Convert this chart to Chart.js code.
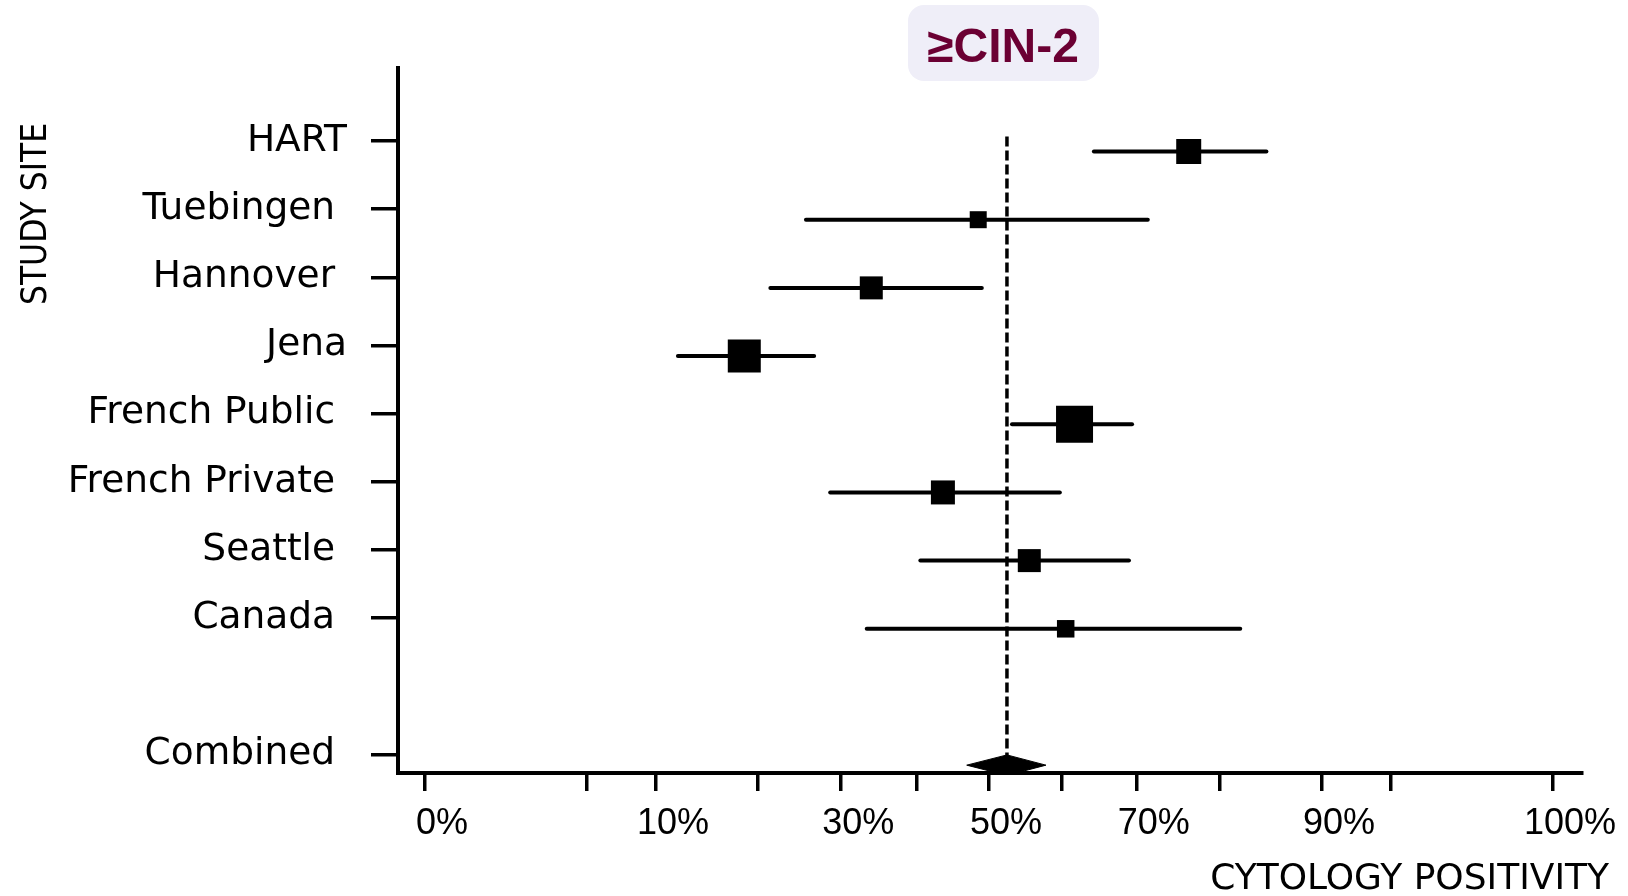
<!DOCTYPE html>
<html>
<head>
<meta charset="utf-8">
<title>CIN-2 cytology positivity by study site</title>
<script src="https://cdn.jsdelivr.net/npm/chart.js@4.4.1/dist/chart.umd.min.js"></script>
<style>
  html, body { margin: 0; padding: 0; background: #fff; }
  #chart { display: block; }
</style>
</head>
<body>
<canvas id="chart" width="1628" height="896"></canvas>
<script>
// Study sites (row 8 is an empty spacer row before the pooled estimate)
const siteLabels = ['HART', 'Tuebingen ', 'Hannover ', 'Jena', 'French Public ', 'French Private ', 'Seattle ', 'Canada ', '', 'Combined '];

// Cytology positivity (%) per site: point estimate and 95% CI
const estimate = [76.4, 48.5, 33.9, 18.5, 61.8, 43.6, 55.6, 60.6];
const lower    = [64.4, 25.6, 21.4, 11.9, 53.2, 28.6, 40.5, 33.3];
const upper    = [84.9, 71.4, 49.0, 26.6, 69.4, 59.8, 69.0, 82.2];

// Pooled estimate
const combinedEstimate = 52.5;
const combinedLower = 46.9;
const combinedUpper = 57.9;
const combinedRow = 9;

// Axis ticks (%); only some of them carry a label
const xTickValues = [0, 5, 10, 20, 30, 40, 50, 60, 70, 80, 90, 95, 100];
const xTickLabels = [0, 10, 30, 50, 70, 90, 100];
const yTickRows = [0, 1, 2, 3, 4, 5, 6, 7, 9];

// marker sizes (px) follow the study weights
const markerSize = [25, 17, 23, 33, 37, 24, 23, 17.5];

// the x axis is on an arcsine-square-root scale
const asinSqrt = p => Math.asin(Math.sqrt(p / 100));
const fromAsin = v => Math.round(100 * Math.pow(Math.sin(v), 2));

const black = '#000';

const ciLines = estimate.map((_, i) => ({
    data: [{ x: asinSqrt(lower[i]), y: i }, { x: asinSqrt(upper[i]), y: i }],
    yAxisID: 'y',
    showLine: true,
    borderColor: black,
    borderWidth: 4,
    borderCapStyle: 'round',
    pointRadius: 0
}));

const decorations = {
    id: 'decorations',
    afterDraw(chart) {
        const ctx = chart.ctx;
        ctx.save();

        // title badge
        ctx.fillStyle = '#efeef8';
        ctx.beginPath();
        ctx.roundRect(908, 5, 191, 76, 16);
        ctx.fill();
        ctx.fillStyle = '#6b0033';
        ctx.font = 'bold 48px "Liberation Sans", Arial, sans-serif';
        ctx.textAlign = 'center';
        ctx.textBaseline = 'alphabetic';
        ctx.fillText('\u2265CIN-2', 1003, 62);

        // axis titles
        ctx.fillStyle = black;
        ctx.font = '36px "DejaVu Sans", sans-serif';
        ctx.textAlign = 'right';
        ctx.fillText('CYTOLOGY POSITIVITY', 1609, 889);

        ctx.translate(46, 214);
        ctx.rotate(-Math.PI / 2);
        ctx.textAlign = 'center';
        ctx.font = '35px "DejaVu Sans Condensed", "DejaVu Sans", sans-serif';
        ctx.fillText('STUDY SITE', 0, 0);
        ctx.restore();
    }
};

new Chart(document.getElementById('chart'), {
    type: 'scatter',
    data: {
        datasets: [
            {
                data: estimate.map((v, i) => ({ x: asinSqrt(v), y: i })),
                yAxisID: 'y',
                pointStyle: 'rect',
                pointRadius: markerSize.map(s => s / Math.SQRT2),
                backgroundColor: black,
                borderWidth: 0
            },
            {
                data: [
                    { x: asinSqrt(combinedLower), y: combinedRow },
                    { x: asinSqrt(combinedEstimate), y: combinedRow - 0.15 },
                    { x: asinSqrt(combinedUpper), y: combinedRow },
                    { x: asinSqrt(combinedEstimate), y: combinedRow + 0.15 },
                    { x: asinSqrt(combinedLower), y: combinedRow }
                ],
                yAxisID: 'y',
                showLine: true,
                fill: 'shape',
                backgroundColor: black,
                borderColor: black,
                borderWidth: 1,
                pointRadius: 0
            },
            ...ciLines,
            {
                data: [{ x: asinSqrt(combinedEstimate), y: -0.22 }, { x: asinSqrt(combinedEstimate), y: combinedRow + 0.2 }],
                yAxisID: 'y',
                showLine: true,
                borderColor: black,
                borderWidth: 3.5,
                borderDash: [10, 4],
                pointRadius: 0
            }
        ]
    },
    options: {
        responsive: false,
        animation: false,
        devicePixelRatio: 1,
        events: [],
        layout: { padding: { top: 68, right: 46, bottom: 0, left: 0 } },
        plugins: {
            legend: { display: false },
            tooltip: { enabled: false },
            title: { display: false }
        },
        scales: {
            x: {
                type: 'linear',
                position: 'bottom',
                min: -0.0376,
                max: 1.6112,
                afterBuildTicks: s => { s.ticks = xTickValues.map(p => ({ value: asinSqrt(p) })); },
                afterFit: s => { s.height = 123; },
                grid: { drawOnChartArea: false, drawTicks: true, tickLength: 18, lineWidth: 3.5, color: black },
                border: { display: true, color: black, width: 4 },
                ticks: {
                    autoSkip: false,
                    maxRotation: 0,
                    labelOffset: 17,
                    padding: 11,
                    color: black,
                    font: { family: '"Liberation Sans", Arial, sans-serif', size: 36 },
                    callback: v => {
                        const p = fromAsin(v);
                        return xTickLabels.includes(p) ? p + '%' : '';
                    }
                }
            },
            y: {
                type: 'linear',
                display: false,
                reverse: true,
                min: -1.225,
                max: 9.115
            },
            yTicks: {
                type: 'linear',
                position: 'left',
                reverse: true,
                min: -1.07,
                max: 9.27,
                afterBuildTicks: s => { s.ticks = yTickRows.map(r => ({ value: r })); },
                afterFit: s => { s.width = 398; },
                grid: { drawOnChartArea: false, drawTicks: true, tickLength: 27, lineWidth: 3.5, color: black },
                border: { display: true, color: black, width: 4 },
                ticks: {
                    autoSkip: false,
                    padding: 24,
                    color: black,
                    font: { family: '"DejaVu Sans", sans-serif', size: 37.5 },
                    callback: v => siteLabels[v]
                }
            }
        }
    },
    plugins: [decorations]
});
</script>
</body>
</html>
